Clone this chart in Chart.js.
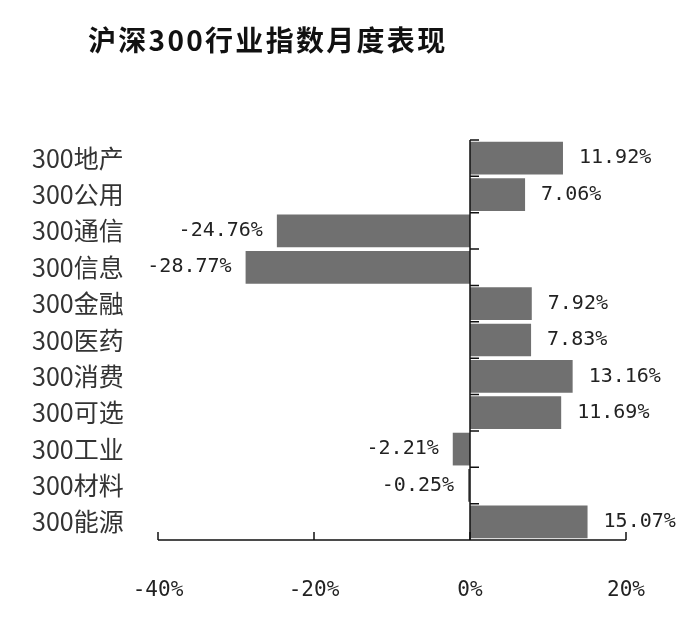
<!DOCTYPE html>
<html>
<head>
<meta charset="utf-8">
<script src="https://cdn.jsdelivr.net/npm/chart.js@4.4.0/dist/chart.umd.min.js"></script>
<style>
  html, body { margin: 0; padding: 0; background: #fff; }
  #wrap { position: relative; width: 700px; height: 617px; }
  #titulo {
    position: absolute; left: 88px; top: 19px; line-height: 28px;
    font: bold 28px "Noto Sans CJK SC", sans-serif; letter-spacing: 2.3px; color: #111;
    white-space: nowrap;
  }
  canvas { display: block; }
</style>
</head>
<body>
<div id="wrap">
  <div id="titulo">沪深300行业指数月度表现</div>
  <canvas id="myChart" width="700" height="617" style="width:700px;height:617px"></canvas>
</div>
<script>
const setores = ['300地产', '300公用', '300通信', '300信息', '300金融', '300医药', '300消费', '300可选', '300工业', '300材料', '300能源'];
const variacao = [11.92, 7.06, -24.76, -28.77, 7.92, 7.83, 13.16, 11.69, -2.21, -0.25, 15.07];
const eixoMin = -40;
const eixoMax = 20;
const eixoPasso = 20;

const ctx = document.getElementById('myChart').getContext('2d');
const fonteNum = '"DejaVu Sans Mono", monospace';

// desenha os eixos (linha do zero e eixo de baixo com marcas para cima) e os rótulos
const eixosERotulos = {
  id: 'eixosERotulos',
  afterDatasetsDraw(chart) {
    const { ctx, chartArea, scales } = chart;
    const x = scales.x, y = scales.y;
    const x0 = x.getPixelForValue(0);
    const banda = (chartArea.bottom - chartArea.top) / setores.length;

    ctx.save();
    ctx.strokeStyle = '#111';
    ctx.lineWidth = 1.5;

    // linha vertical do zero
    ctx.beginPath();
    ctx.moveTo(x0, chartArea.top);
    ctx.lineTo(x0, chartArea.bottom);
    for (let i = 0; i < setores.length; i++) {
      const yy = y.getPixelForValue(i) - banda / 2;
      ctx.moveTo(x0, yy);
      ctx.lineTo(x0 + 9, yy);
    }
    ctx.stroke();

    // eixo x embaixo
    ctx.beginPath();
    ctx.moveTo(chartArea.left, chartArea.bottom);
    ctx.lineTo(chartArea.right, chartArea.bottom);
    for (let v = eixoMin; v <= eixoMax; v += eixoPasso) {
      const xx = x.getPixelForValue(v);
      ctx.moveTo(xx, chartArea.bottom);
      ctx.lineTo(xx, chartArea.bottom - 8);
    }
    ctx.stroke();

    // valores nas barras
    ctx.fillStyle = '#222';
    ctx.font = '20px ' + fonteNum;
    ctx.textBaseline = 'middle';
    chart.getDatasetMeta(0).data.forEach((barra, i) => {
      const v = variacao[i];
      const txt = v.toFixed(2) + '%';
      if (v >= 0) {
        ctx.textAlign = 'left';
        ctx.fillText(txt, barra.x + 16, barra.y);
      } else {
        ctx.textAlign = 'right';
        ctx.fillText(txt, barra.x - 14, barra.y);
      }
    });
    ctx.restore();
  }
};

new Chart(ctx, {
  type: 'bar',
  data: {
    labels: setores,
    datasets: [{
      data: variacao,
      backgroundColor: '#707070',
      borderWidth: 0,
      barPercentage: 0.9,
      categoryPercentage: 1
    }]
  },
  options: {
    indexAxis: 'y',
    responsive: false,
    animation: false,
    layout: { padding: { left: 32, right: 74, top: 140, bottom: 0 } },
    plugins: {
      legend: { display: false },
      tooltip: { enabled: false },
      title: { display: false }
    },
    scales: {
      x: {
        type: 'linear',
        min: eixoMin,
        max: eixoMax,
        grid: { display: false, drawTicks: false },
        border: { display: false },
        ticks: {
          stepSize: eixoPasso,
          padding: 38,
          color: '#222',
          font: { family: fonteNum, size: 21 },
          callback: v => v + '%'
        },
        afterFit: s => { s.height = 77; }
      },
      y: {
        grid: { display: false, drawTicks: false },
        border: { display: false },
        ticks: {
          crossAlign: 'far',
          color: '#333',
          font: { family: '"Noto Sans CJK SC", sans-serif', size: 25 }
        },
        afterFit: s => { s.width = 126; }
      }
    }
  },
  plugins: [eixosERotulos]
});
</script>
</body>
</html>
